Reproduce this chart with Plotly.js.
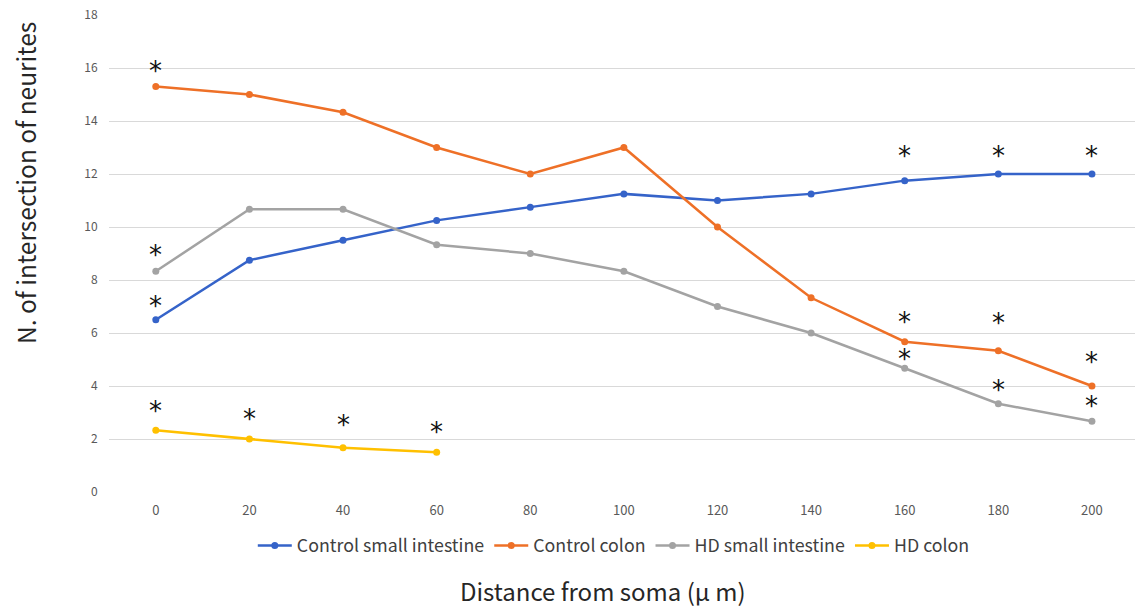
<!DOCTYPE html>
<html>
<head>
<meta charset="utf-8">
<script src="https://cdn.plot.ly/plotly-3.0.1.min.js"></script>
<style>html,body{margin:0;padding:0;background:#fff;}#chart{width:1135px;height:609px;}</style>
</head>
<body>
<div id="chart"></div>
<script>
var distances = [0, 20, 40, 60, 80, 100, 120, 140, 160, 180, 200];
var controlSmallIntestine = [6.5, 8.75, 9.5, 10.25, 10.75, 11.25, 11.0, 11.25, 11.75, 12.0, 12.0];
var controlColon = [15.3, 15.0, 14.33, 13.0, 12.0, 13.0, 10.0, 7.33, 5.67, 5.33, 4.0];
var hdSmallIntestine = [8.33, 10.67, 10.67, 9.33, 9.0, 8.33, 7.0, 6.0, 4.67, 3.33, 2.67];
var hdColon = [2.33, 2.0, 1.67, 1.5];
var seriesNames = ["Control small intestine", "Control colon", "HD small intestine", "HD colon"];
var yTicks = [0, 2, 4, 6, 8, 10, 12, 14, 16, 18];
var xTitle = "Distance from soma (μ m)";
var yTitle = "N. of intersection of neurites";

// significance marks: series index, point index, pixel offset above the point
var stars = [
  [0, 0, 18], [0, 8, 29], [0, 9, 22], [0, 10, 22],
  [1, 0, 20], [1, 8, 24], [1, 9, 32], [1, 10, 28],
  [2, 0, 20], [2, 8, 13], [2, 9, 18], [2, 10, 19],
  [3, 0, 23], [3, 1, 24], [3, 2, 27], [3, 3, 24]
];

var seriesY = [controlSmallIntestine, controlColon, hdSmallIntestine, hdColon];
var colors = ["#3563C9", "#EE7027", "#A3A3A3", "#FFC000"];

var traces = seriesY.map(function (ys, i) {
  return {
    x: distances.slice(0, ys.length),
    y: ys,
    name: seriesNames[i],
    type: "scatter",
    mode: "lines+markers",
    line: {color: colors[i], width: 2.5},
    marker: {color: colors[i], size: 7}
  };
});

var annotations = stars.map(function (s) {
  return {
    x: distances[s[1]],
    y: seriesY[s[0]][s[1]],
    xref: "x", yref: "y",
    text: "*",
    showarrow: false,
    yshift: s[2] - 4,
    xanchor: "center", yanchor: "middle",
    font: {family: "DejaVu Sans", size: 26, color: "#111"}
  };
});

annotations.push({
  xref: "paper", yref: "paper", x: 0.4815, y: -0.2055,
  xanchor: "center", yanchor: "middle", showarrow: false,
  text: xTitle,
  font: {family: "Noto Sans CJK JP", size: 24, color: "#262626"}
});
annotations.push({
  xref: "paper", yref: "paper", x: -0.0808, y: 0.648,
  xanchor: "center", yanchor: "middle", showarrow: false, textangle: -90,
  text: yTitle,
  font: {family: "Noto Sans CJK JP", size: 24.5, color: "#262626"}
});

var layout = {
  width: 1135, height: 609,
  margin: {l: 109, r: 0, t: 15, b: 117},
  paper_bgcolor: "#fff", plot_bgcolor: "#fff",
  showlegend: true,
  legend: {orientation: "h", x: 0.492, xanchor: "center", y: -0.113, yanchor: "middle",
    font: {family: "Noto Sans CJK JP", size: 17.8, color: "#404040"}, itemwidth: 34},
  xaxis: {
    range: [-10, 209.2],
    tickvals: distances,
    ticktext: distances.map(String),
    showgrid: false, zeroline: false, showline: false,
    ticks: "outside", ticklen: 6, tickcolor: "rgba(0,0,0,0)",
    tickfont: {family: "Noto Sans CJK JP", size: 13, color: "#595959"}
  },
  yaxis: {
    range: [0, 18],
    tickvals: yTicks,
    showgrid: true, gridcolor: "#D9D9D9", gridwidth: 1,
    zeroline: false, showline: false, ticks: "outside", ticklen: 8, tickcolor: "rgba(0,0,0,0)",
    tickfont: {family: "Noto Sans CJK JP", size: 12, color: "#595959"}
  },
  annotations: annotations
};

Plotly.newPlot("chart", traces, layout, {displayModeBar: false, staticPlot: true});
</script>
</body>
</html>
